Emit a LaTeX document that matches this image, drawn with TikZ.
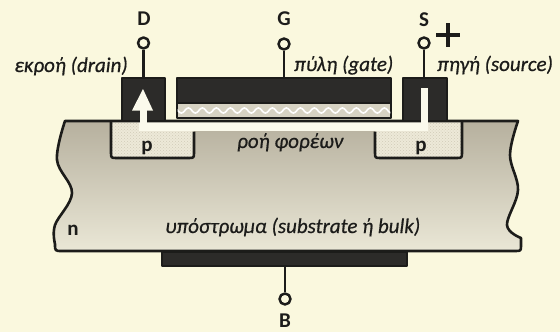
\documentclass[tikz,border=0pt]{standalone}
\usepackage{fontspec}
\setmainfont{Carlito}[ItalicFeatures={FakeBold=0.6}]
\usetikzlibrary{patterns,decorations.pathmorphing}

\definecolor{paper}{RGB}{250,248,222}
\definecolor{subdark}{RGB}{182,176,158}
\definecolor{sublight}{RGB}{234,231,214}
\definecolor{metal}{RGB}{44,43,41}
\definecolor{pfill}{RGB}{237,233,216}
\definecolor{pdots}{RGB}{208,203,184}
\definecolor{oxide}{RGB}{214,210,194}
\definecolor{ink}{RGB}{28,28,26}
\definecolor{chan}{RGB}{251,250,236}

\begin{document}
\begin{tikzpicture}[x=1pt,y=-1pt,line join=round,
  outline/.style={draw=ink,line width=2.6pt},
  metalbox/.style={rectangle,fill=metal,draw=ink,line width=1.2pt,inner sep=0pt,outer sep=0pt},
  oxidebox/.style={rectangle,fill=oxide,draw=ink,line width=1.2pt,inner sep=0pt,outer sep=0pt},
  terminal/.style={circle,draw=ink,fill=paper,line width=2.5pt,minimum size=11pt,inner sep=0pt},
  lead/.style={draw=ink,line width=2.6pt},
  pinlabel/.style={font=\fontsize{21}{21}\selectfont\bfseries,text=ink,inner sep=0pt},
  caption/.style={font=\fontsize{21}{21}\selectfont\itshape,text=ink,inner sep=0pt},
  dope/.style={font=\fontsize{21}{21}\selectfont\bfseries,text=ink,inner sep=0pt}]

\fill[paper] (0,0) rectangle (560,332);
\useasboundingbox (0,0) rectangle (560,332);

% n-type substrate body
\def\bodypath{(65,121) -- (518,121)
  -- plot[smooth,tension=0.6] coordinates {(518,121) (510,155) (518,190) (507,225) (521,238)}
  -- (521,245) .. controls (521,251) .. (515,251) -- (62,251) .. controls (55,251) .. (55,244)
  -- plot[smooth,tension=0.6] coordinates {(55,244) (55,225) (72,193) (57,160) (65,121)} -- cycle}
\path[top color=subdark,bottom color=sublight] \bodypath;

% p regions
\def\drainwell{(111,121) -- (111,152) .. controls (111,158) .. (117,158) -- (188,158) .. controls (194,158) .. (194,152) -- (194,121) -- cycle}
\def\sourcewell{(375,121) -- (375,152) .. controls (375,158) .. (381,158) -- (456,158) .. controls (462,158) .. (462,152) -- (462,121) -- cycle}
\fill[pfill] \drainwell;
\fill[pfill] \sourcewell;
\fill[pattern=crosshatch dots,pattern color=pdots] \drainwell;
\fill[pattern=crosshatch dots,pattern color=pdots] \sourcewell;

% carrier channel
\fill[chan] (139,122) rectangle (428,131);

% outlines
\draw[outline] \bodypath;
\draw[outline] (111,121) -- (111,152) .. controls (111,158) .. (117,158) -- (188,158) .. controls (194,158) .. (194,152) -- (194,131.5);
\draw[outline] (375,131.5) -- (375,152) .. controls (375,158) .. (381,158) -- (456,158) .. controls (462,158) .. (462,152) -- (462,121);

% contacts and gate stack
\node[metalbox,minimum width=43pt,minimum height=43pt] (drain) at (143.5,99.5) {};
\node[metalbox,minimum width=44pt,minimum height=43pt] (source) at (425,99.5) {};
\node[metalbox,minimum width=214pt,minimum height=25pt] (gate) at (284,90.5) {};
\node[oxidebox,minimum width=214pt,minimum height=15pt] (oxide) at (284,110.5) {};
\begin{scope}
  \clip (177.6,103.6) rectangle (390.4,117.4);
  \draw[white,line width=1.6pt,decorate,decoration={snake,segment length=14pt,amplitude=2.6pt}] (170,110.5) -- (400,110.5);
\end{scope}
\node[metalbox,minimum width=245pt,minimum height=14pt] (bulk) at (284.5,259) {};
\draw[ink,line width=2.6pt] (65,121) -- (518,121);

% drain arrow and source slot
\fill[chan] (139.5,108) rectangle (146.5,131);
\fill[chan] (132,110.5) -- (153,110.5) -- (143,89) -- cycle;
\fill[chan] (420.5,88) rectangle (428,131);

% terminals
\node[terminal] (tD) at (143.5,43) {};
\node[terminal] (tG) at (284,44) {};
\node[terminal] (tS) at (424,43) {};
\node[terminal] (tB) at (285,299) {};
\draw[lead] (tD.south) -- (drain.north);
\draw[lead] (tG.south) -- (gate.north);
\draw[lead] (tS.south) -- (tS.south |- source.north);
\draw[lead] (tB.north) -- (tB.north |- bulk.south);

\node[pinlabel,anchor=base] (lD) at (144,25) {D};
\node[pinlabel,anchor=base] (lG) at (284,25) {G};
\node[pinlabel,anchor=base] (lS) at (424,27) {S};
\node[pinlabel,anchor=base] (lB) at (285,327) {B};
\draw[ink,line width=3.4pt] (436,35) -- (460,35) (448,23) -- (448,47);

% captions
\node[caption,anchor=base east] (cD) at (128,72) {εκροή (drain)};
\node[caption,anchor=base west] (cG) at (294,71) {πύλη (gate)};
\node[caption,anchor=base west] (cS) at (437,71) {πηγή (source)};
\node[caption,anchor=base west] (cC) at (237,148) {ροή φορέων};
\node[caption,anchor=base west] (cB) at (165,233) {υπόστρωμα (substrate ή bulk)};
\node[dope,anchor=base] (pD) at (147,151) {p};
\node[dope,anchor=base] (pS) at (421,151) {p};
\node[dope,anchor=base] (nB) at (73,235) {n};
\end{tikzpicture}
\end{document}
